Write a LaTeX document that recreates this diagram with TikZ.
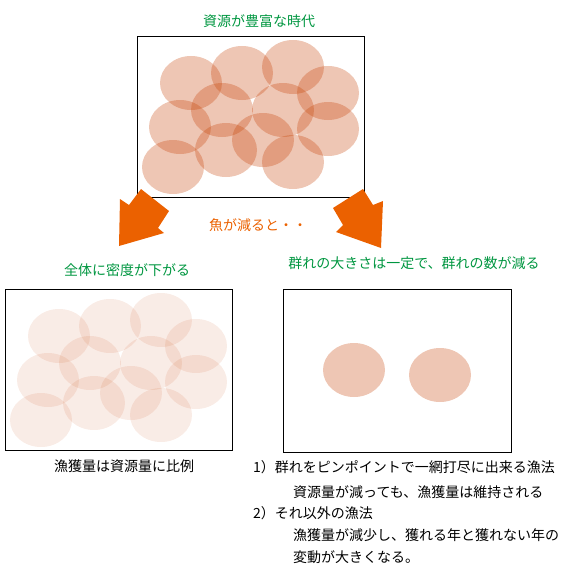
\documentclass[tikz,border=0pt]{standalone}
\usepackage{fontspec}
\setmainfont{Noto Sans CJK JP}

\definecolor{jpgreen}{RGB}{0,150,64}
\definecolor{jporange}{RGB}{235,97,0}
\definecolor{fishred}{RGB}{198,65,5}

\tikzstyle{panel}=[draw=black, line width=0.8pt, minimum width=227pt, minimum height=161pt, inner sep=0pt]
\tikzstyle{school}=[fill=fishred, fill opacity=0.3]
\tikzstyle{faint}=[fill=fishred, fill opacity=0.1]
\tikzstyle{headline}=[text=jpgreen, inner sep=0pt, font=\fontsize{14}{16}\selectfont]
\tikzstyle{remark}=[text=black, inner sep=0pt, anchor=west, font=\fontsize{14}{16}\selectfont]
\tikzstyle{bigarrow}=[fill=jporange]

% school centres in the full panel
\newcommand{\schoollist}{(191,83),(242,73),(293,67),(328,93),(222,110),(283,110),(180,127),(328,129),(226,150),(263,140),(173,167),(293,162)}

\begin{document}
\begin{tikzpicture}[x=1pt,y=-1pt]
\useasboundingbox (0,0) rectangle (569,586);

% top panel: many schools
\node[headline] (richlabel) at (259,21) {資源が豊富な時代};
\node[panel] (rich) at (250.5,116.5) {};
\foreach \p in \schoollist{% schools
    \fill[school] \p ellipse (31pt and 27pt);
}

% two arrows
\fill[bigarrow] (141,189) -- (129,205) -- (120,199) -- (119,246) -- (164,233) -- (158,228) -- (169,211) -- cycle;
\fill[bigarrow] (363,189) -- (373,205) -- (383,201) -- (381,248) -- (336,232) -- (343,225) -- (333,208) -- cycle;
\node[headline, text=jporange] (fewer) at (258,225) {魚が減ると・・};

% left panel: thinner everywhere
\node[headline] (sparselabel) at (127,270) {全体に密度が下がる};
\node[panel] (sparse) at (118.5,370) {};
\begin{scope}[shift={(-132,253)}]
\foreach \p in \schoollist{%
    \fill[faint] \p ellipse (31pt and 27pt);
}
\end{scope}
\node[text=black, inner sep=0pt, font=\fontsize{14}{16}\selectfont] (catchlabel) at (124,466) {漁獲量は資源量に比例};

% right panel: fewer schools
\node[headline] (fewlabel) at (414,263) {群れの大きさは一定で、群れの数が減る};
\node[panel, minimum width=228pt, minimum height=163pt] (few) at (397,370.5) {};
\fill[school] (354,370) ellipse (31pt and 27pt);
\fill[school] (440,375) ellipse (31pt and 27pt);

% notes
\node[remark] (note1) at (253,467) {1）群れをピンポイントで一網打尽に出来る漁法};
\node[remark] (note1b) at (293,492) {資源量が減っても、漁獲量は維持される};
\node[remark] (note2) at (253,513) {2）それ以外の漁法};
\node[remark] (note2b) at (293,535) {漁獲量が減少し、獲れる年と獲れない年の};
\node[remark] (note2c) at (293,557) {変動が大きくなる。};

\end{tikzpicture}
\end{document}
